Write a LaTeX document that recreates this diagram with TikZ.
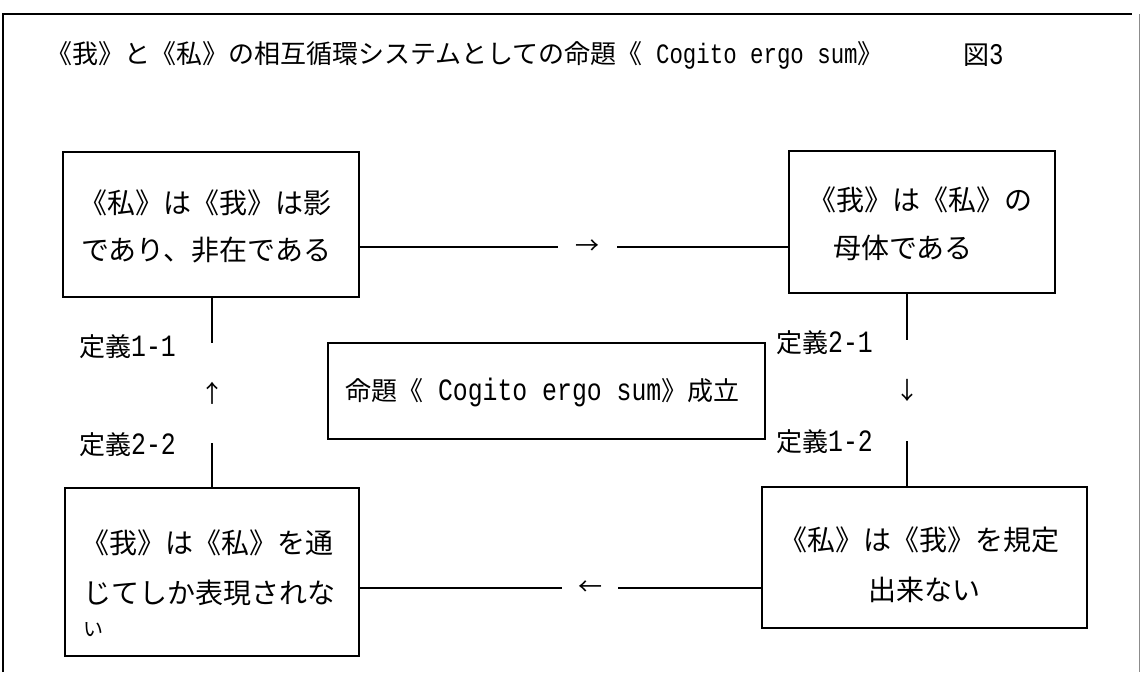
\documentclass[tikz,border=0pt]{standalone}
\usepackage{fontspec}
\setmainfont{Noto Sans CJK JP}
\newfontfamily\latin{Liberation Mono}
\newfontfamily\latinc[FakeStretch=0.8]{Liberation Mono}
\newcommand\lt[2]{{\fontsize{#1}{#1}\latinc #2}}
\begin{document}
\begin{tikzpicture}[x=1pt,y=-1pt,
  box/.style={draw, line width=1.5pt, inner sep=0pt, outer sep=0pt},
  txt/.style={anchor=west, inner sep=0pt, font=\fontsize{28}{30}\selectfont},
  lbl/.style={anchor=west, inner sep=0pt, font=\fontsize{26}{28}\selectfont},
  conn/.style={line width=1.5pt},
  arrow glyph/.style={inner sep=0pt, outer sep=0pt, font=\fontsize{24}{24}\selectfont}]
\useasboundingbox (0,0) rectangle (1142,672);
% outer frame
\draw[line width=1.4pt] (3,672) -- (3,14) -- (1132,14);
\draw[line width=1pt, black!45] (1139,14) -- (1139,672);
% title
\node[anchor=west, inner sep=0pt, font=\fontsize{26}{28}\selectfont] (title) at (46,55)
  {《我》と《私》の相互循環システムとしての命題《\lt{28}{\ Cogito ergo sum}》};
\node[anchor=west, inner sep=0pt, font=\fontsize{26}{28}\selectfont] (fig) at (963,55)
  {図\lt{30}{3}};
% boxes
\node[box, minimum width=296pt, minimum height=145pt] (tl) at (211,224.5) {};
\node[box, minimum width=266pt, minimum height=142pt] (tr) at (922,222) {};
\node[box, minimum width=294pt, minimum height=168pt] (bl) at (212,572) {};
\node[box, minimum width=325pt, minimum height=141pt] (br) at (924.5,557.5) {};
\node[box, minimum width=437pt, minimum height=96pt] (ctr) at (546.5,391) {};
% box texts
\node[txt] (tl1) at (79,203) {《私》は《我》は影};
\node[txt] (tl2) at (81,250) {であり、非在である};
\node[txt] (tr1) at (808,200) {《我》は《私》の};
\node[txt] (tr2) at (833,248) {母体である};
\node[txt] (bl1) at (81,543) {《我》は《私》を通};
\node[txt] (bl2) at (83,593) {じてしか表現されな};
\node[txt, font=\fontsize{20}{22}\selectfont] (bl3) at (83,630) {い};
\node[txt] (br1) at (779,540) {《私》は《我》を規定};
\node[txt, anchor=center] (br2) at (924.5,590) {出来ない};
\node[txt, font=\fontsize{26}{28}\selectfont] (ct) at (345,392)
  {命題《\lt{31}{\ Cogito ergo sum}》成立};
% labels
\node[lbl] (d11) at (79,347) {定義\lt{31}{1-1}};
\node[lbl] (d22) at (79,445) {定義\lt{31}{2-2}};
\node[lbl] (d21) at (776,343) {定義\lt{31}{2-1}};
\node[lbl] (d12) at (776,442) {定義\lt{31}{1-2}};
% arrow glyphs
\node[arrow glyph, minimum width=59pt] (ra) at (587.5,247) {→};
\node[arrow glyph, minimum width=56pt] (la) at (590,588) {←};
\node[arrow glyph, minimum height=100pt] (ua) at (212,393) {↑};
\node[arrow glyph, minimum height=101pt] (da) at (907,390.5) {↓};
% connectors
\draw[conn] (ra.west -| tl.east) -- (ra.west);
\draw[conn] (ra.east) -- (ra.east -| tr.west);
\draw[conn] (la.west -| bl.east) -- (la.west);
\draw[conn] (la.east) -- (la.east -| br.west);
\draw[conn] (ua.north |- tl.south) -- (ua.north);
\draw[conn] (ua.south) -- (ua.south |- bl.north);
\draw[conn] (da.north |- tr.south) -- (da.north);
\draw[conn] (da.south) -- (da.south |- br.north);
\end{tikzpicture}
\end{document}
